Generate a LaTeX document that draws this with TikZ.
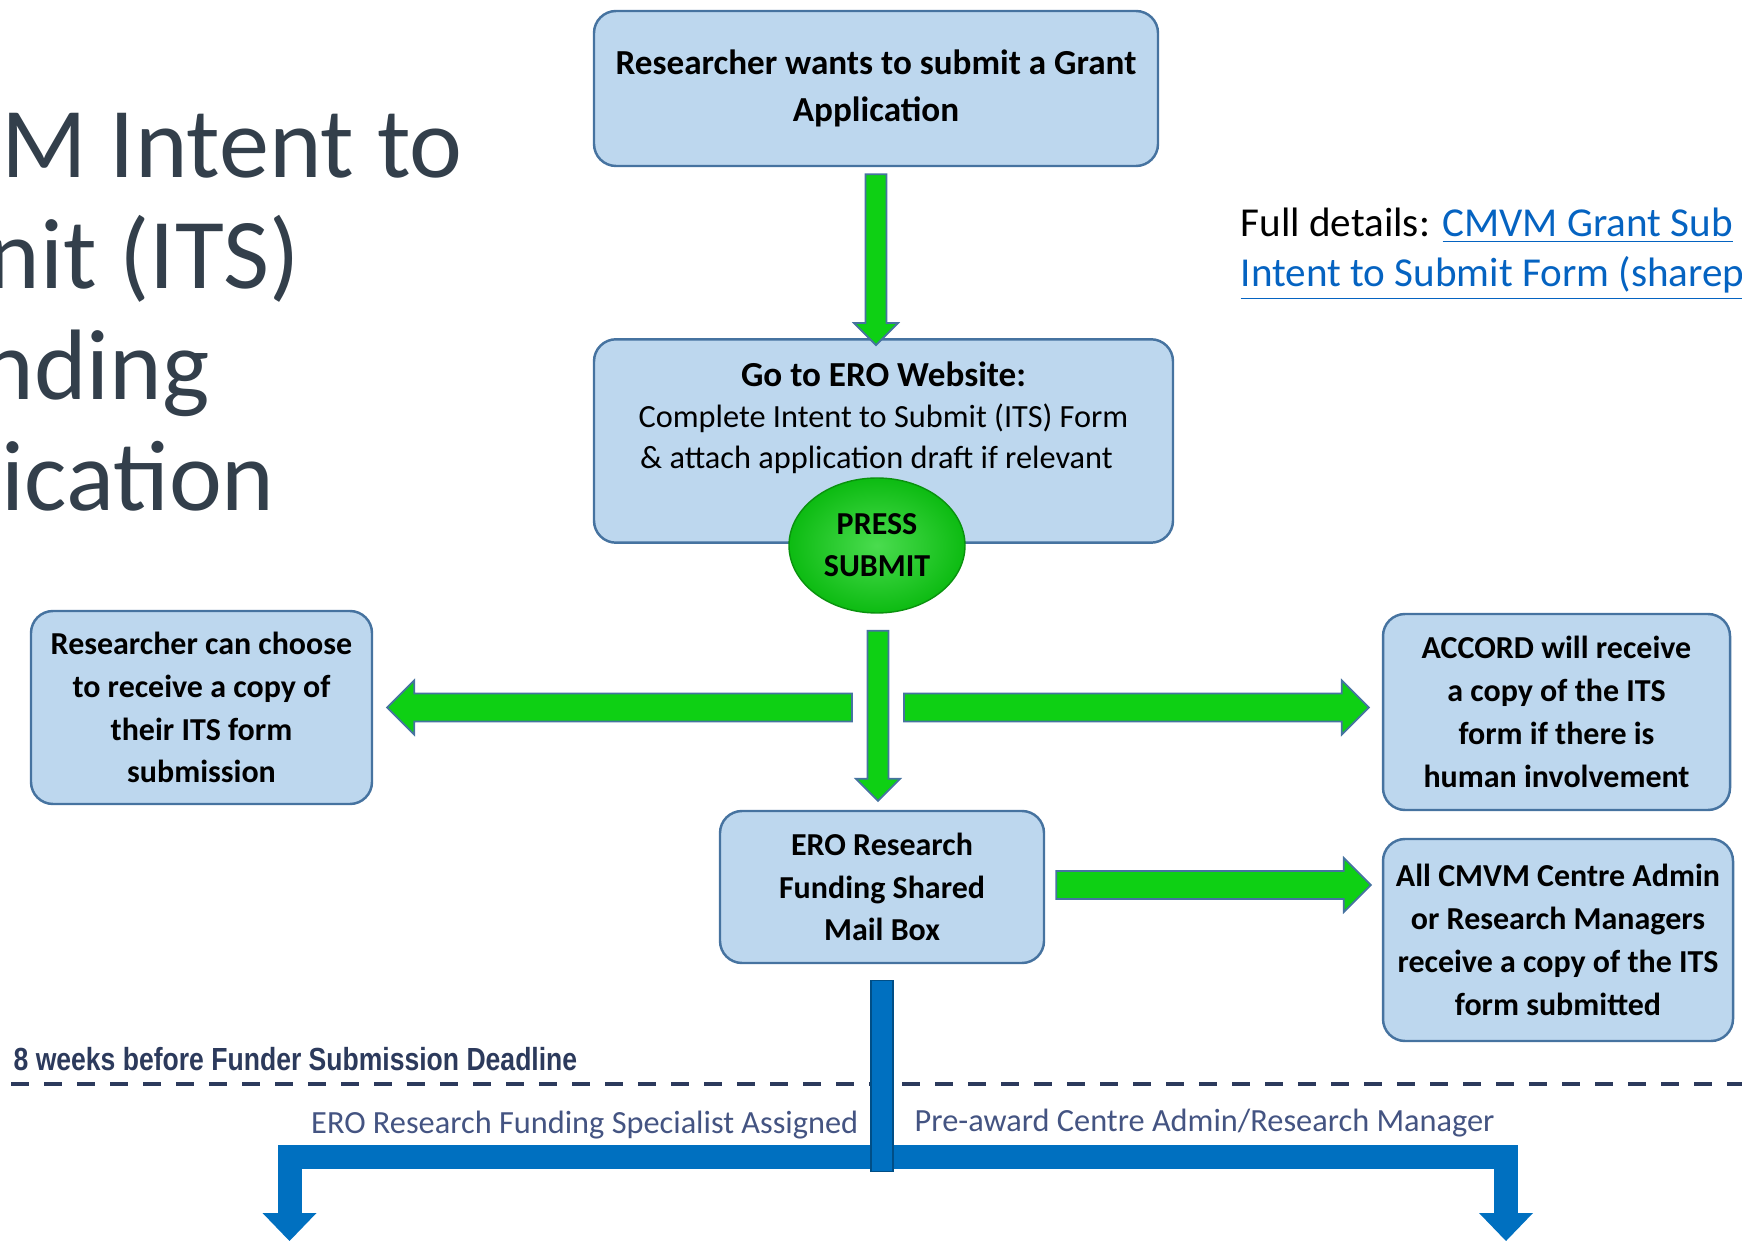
\documentclass[tikz,border=0pt]{standalone}
\usepackage{fontspec}
\setmainfont{Carlito}
\newfontfamily\narrowfont[FakeStretch=0.83]{Liberation Sans}
\usetikzlibrary{%
   calc,%
   positioning,%
   shapes.geometric%
}

\definecolor{boxfill}{RGB}{189,215,238}
\definecolor{boxedge}{RGB}{70,115,160}
\definecolor{arrowgreen}{RGB}{14,208,20}
\definecolor{barblue}{RGB}{0,112,192}
\definecolor{titlegrey}{RGB}{51,63,75}
\definecolor{linkblue}{RGB}{5,99,193}
\definecolor{deadnavy}{RGB}{44,58,92}
\definecolor{slateblue}{RGB}{68,84,130}

% block arrow: [style]{from}{to}{half shaft}{half head}{head length}
\newcommand\blockarrow[6][]{%
  \coordinate (ba-neck) at ($(#3)!#6!(#2)$);
  \filldraw[greenarrow,#1] ($(#2)!#4!90:(#3)$) -- ($(ba-neck)!#4!-90:(#2)$)
    -- ($(ba-neck)!#5!-90:(#2)$) -- (#3) -- ($(ba-neck)!#5!90:(#2)$)
    -- ($(ba-neck)!#4!90:(#2)$) -- ($(#2)!#4!-90:(#3)$) -- cycle;
}

\begin{document}
\begin{tikzpicture}[x=0.1mm,y=-0.1mm,
	stepbox/.style={
	rectangle,
	rounded corners=2.2mm,
	line width=0.7pt,
	draw=boxedge,
	fill=boxfill,
	align=center,
	font=\bfseries\fontsize{9.1}{12.2}\selectfont
	},pressbtn/.style={
	ellipse,
	minimum width=17.6mm,minimum height=13.5mm,inner sep=0pt,
	inner color=arrowgreen!75!white,outer color=arrowgreen!90!black,
	draw=arrowgreen!70!black,line width=0.4pt,
	align=center,font=\bfseries\fontsize{9.1}{12}\selectfont
	},greenarrow/.style={
	fill=arrowgreen,draw=boxedge,line width=0.5pt,line join=miter
	},bluebar/.style={
	draw=barblue,line width=2.4mm,line join=miter
	},deadline/.style={
	draw=deadnavy,line width=0.4mm,dash pattern=on 1.8mm off 1.5mm
	}
]
\useasboundingbox (0,0) rectangle (1742,1241);
\clip (0,0) rectangle (1742,1241);

% title and link, both cut at the page edge (base = last line)
\node (heading) [anchor=base west,inner sep=0pt,align=left,text=titlegrey,
  font=\fontsize{28.5}{31.6}\selectfont] at (1,511)
  {M Intent to\\\hspace*{-1.4mm}nit (ITS)\\\hspace*{-2mm}nding\\ication};
\node (details) [anchor=base west,inner sep=0pt,align=left,
  font=\fontsize{11.7}{14.5}\selectfont] at (1240,287)
  {Full details: \textcolor{linkblue}{\underline{CMVM Grant Sub}}\\
   \textcolor{linkblue}{\underline{Intent to Submit Form (sharep}}};

% boxes
\node (start) [stepbox,minimum width=56.4mm,minimum height=15.5mm,
  font=\bfseries\fontsize{10}{13.3}\selectfont] at (876,88.5)
  {Researcher wants to submit a Grant\\Application};
\node (website) [stepbox,minimum width=57.9mm,text height=11.8mm,text depth=6.2mm,
  font=\fontsize{9.2}{11.7}\selectfont] at (883.5,441)
  {{\bfseries\fontsize{10}{11.7}\selectfont Go to ERO Website:}\\
   Complete Intent to Submit (ITS) Form\\\& attach application draft if relevant\hspace*{1.4mm}};
\node (submit) [pressbtn] at (877,545.5) {PRESS\\SUBMIT};
\node (choose) [stepbox,minimum width=34.1mm,minimum height=19.3mm] at (201.5,707.5)
  {Researcher can choose\\to receive a copy of\\their ITS form\\submission};
\node (accord) [stepbox,minimum width=34.7mm,minimum height=19.6mm] at (1556.5,712)
  {ACCORD will receive\\a copy of the ITS\\form if there is\\human involvement};
\node (mailbox) [stepbox,minimum width=32.4mm,minimum height=15.2mm] at (882,887)
  {ERO Research\\Funding Shared\\Mail Box};
\node (centres) [stepbox,minimum width=35mm,minimum height=20.2mm] at (1558,940)
  {All CMVM Centre Admin\\or Research Managers\\receive a copy of the ITS\\form submitted};

% green arrows
\coordinate (a1s) at ($(start.south)+(0,7)$);
\coordinate (a1e) at ($(website.north)+(-7.5,7)$);
\coordinate (a2s) at ($(submit.south)+(1,17)$);
\coordinate (a2e) at ($(mailbox.north)+(-4,-9)$);
\coordinate (a3s) at ($(submit.south |- choose.east)+(-25,0)$);
\coordinate (a3e) at ($(choose.east)+(14,0)$);
\coordinate (a4s) at ($(submit.south |- choose.east)+(27,0)$);
\coordinate (a4e) at ($(accord.west |- choose.east)+(-13,0)$);
\coordinate (a5s) at ($(mailbox.east)+(11,-2)$);
\coordinate (a5e) at ($(centres.west |- a5s)+(-11,0)$);
\blockarrow{a1s}{a1e}{1.05mm}{2.2mm}{2.2mm}
\blockarrow{a2s}{a2e}{1.05mm}{2.2mm}{2.2mm}
\blockarrow{a3s}{a3e}{1.4mm}{2.7mm}{2.7mm}
\blockarrow{a4s}{a4e}{1.4mm}{2.7mm}{2.7mm}
\blockarrow{a5s}{a5e}{1.4mm}{2.7mm}{2.7mm}

% deadline
\draw[deadline] (11,1084) -- (1742,1084);
\node (weeks) [anchor=base west,inner sep=0pt,text=deadnavy,
  font=\narrowfont\bfseries\fontsize{9.1}{11}\selectfont] at (13,1070)
  {8 weeks before Funder Submission Deadline};
\node (specialist) [anchor=base east,inner sep=0pt,text=slateblue,
  font=\fontsize{9.2}{11}\selectfont] at (859,1133)
  {ERO Research Funding Specialist Assigned};
\node (preaward) [anchor=base west,inner sep=0pt,text=slateblue,
  font=\fontsize{9.2}{11}\selectfont] at (914,1131)
  {Pre-award Centre Admin/Research Manager};

% blue split
\coordinate (split) at ($(mailbox.south)+(0,193)$);
\coordinate (toERO) at (289.5,1241);
\coordinate (toCentre) at (1506,1241);
\draw[bluebar] (split) -| ($(toERO)+(0,-28)$);
\draw[bluebar] (split) -| ($(toCentre)+(0,-28)$);
\fill[barblue] ($(toERO)+(-27,-28)$) -- (toERO) -- ($(toERO)+(27,-28)$) -- cycle;
\fill[barblue] ($(toCentre)+(-27,-28)$) -- (toCentre) -- ($(toCentre)+(27,-28)$) -- cycle;
\filldraw[barblue,draw=barblue!70!black,line width=0.4pt]
  ($(mailbox.south)+(-11,16)$) rectangle ($(mailbox.south)+(11,207)$);

\end{tikzpicture}
\end{document}
